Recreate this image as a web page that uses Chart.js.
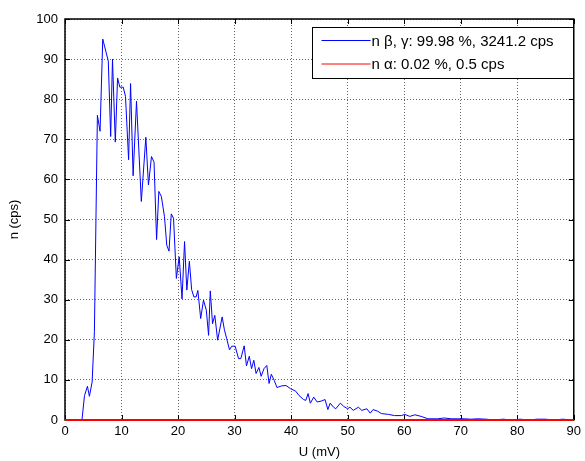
<!DOCTYPE html>
<html>
<head>
<meta charset="utf-8">
<script src="https://cdn.jsdelivr.net/npm/chart.js@4/dist/chart.umd.min.js"></script>
<style>
    html, body { margin: 0; padding: 0; background: #fff; }
    #wrap { width: 585px; height: 461px; position: relative; }
</style>
</head>
<body>
<div id="wrap"><canvas id="spectrumChart"></canvas></div>
<script>
// ========== DATA ==========
const uBeta = [0, 3.0, 3.45, 3.97, 4.32, 4.8, 5.2, 5.73, 6.2, 6.68, 7.66, 8.08, 8.4, 8.9, 9.3, 9.7,
    10.3, 10.7, 11.25, 11.6, 12.05, 12.65, 13.5, 14.3, 14.76, 15.3, 15.75, 16.2, 16.6, 17.05, 17.6,
    18.0, 18.4, 18.8, 19.2, 19.7, 20.2, 20.7, 21.15, 21.55, 22.0, 22.4, 22.8, 23.2, 23.5, 24.0, 24.5,
    25.0, 25.4, 25.7, 26.1, 26.5, 27.0, 27.8, 28.2, 28.6, 29.1, 29.5, 30.1, 30.7, 31.1, 31.7, 32.1,
    32.6, 33.0, 33.4, 33.8, 34.3, 34.7, 35.2, 35.7, 36.1, 36.5, 37.0, 37.5, 38.3, 39.1, 39.9, 40.8,
    41.4, 42.2, 42.6, 43.0, 43.4, 44.0, 44.6, 45.3, 46.0, 46.5, 46.9, 47.5, 47.9, 48.7, 49.3, 50.0,
    50.4, 51.0, 51.9, 52.5, 53.4, 54.0, 54.5, 55.3, 56.0, 57.2, 58.3, 59.5, 60.1, 61.0, 61.9, 63.0,
    64.2, 65.9, 67.1, 68.3, 69.5, 70.7, 71.8, 73.0, 74.5, 76.0, 77.5, 79.0, 80.5, 82.0, 83.5, 85.0,
    86.5, 88.0, 90.0];
const nBeta = [0, 0, 6.1, 8.4, 5.9, 9.5, 22, 76, 72, 95, 89.5, 70.7, 90, 69.3, 85.3, 83,
    83, 80.7, 64.9, 83.9, 60.9, 79.5, 54.5, 70.5, 58.6, 65.7, 64.3, 45, 57, 55.7, 50.7,
    43.6, 42.1, 51.4, 50.3, 35.3, 40.7, 30.2, 44.5, 32.4, 39.6, 32.5, 30.7, 30.7, 32.3, 25.3, 29.9,
    27.4, 21.1, 32.2, 24, 26.1, 19.9, 25.7, 22.5, 20.3, 17.5, 18.4, 18.4, 15.3, 15.3, 18.5, 13.5,
    15.9, 12.8, 14.9, 11.6, 13.1, 10.9, 12.8, 13.6, 9.1, 11.4, 9.9, 8.1, 8.5, 8.6, 7.8, 7.2,
    6.1, 5.1, 4.9, 6.6, 4.2, 5.7, 4.5, 4.7, 5.1, 2.6, 4.2, 3.2, 2.8, 4.2, 3.4, 2.8,
    3.2, 2.4, 3.2, 2.4, 2.8, 1.7, 2.6, 2.2, 1.6, 1.4, 1.1, 1.1, 1.4, 0.9, 1.3, 0.9,
    0.3, 0.3, 0.5, 0.3, 0.3, 0.3, 0.2, 0.3, 0.2, 0, 0.2, 0, 0.2, 0, 0.2, 0.2,
    0, 0.2, 0];

const uAlpha = [0, 10, 20, 30, 40, 50, 60, 70, 80, 90];
const nAlpha = [0, 0, 0, 0, 0, 0, 0, 0, 0, 0];

const xTicks = [0, 10, 20, 30, 40, 50, 60, 70, 80, 90];
const yTicks = [0, 10, 20, 30, 40, 50, 60, 70, 80, 90, 100];

const labelBeta = 'n \u03b2, \u03b3: 99.98 %, 3241.2 cps';
const labelAlpha = 'n \u03b1: 0.02 %, 0.5 cps';

const FONT = 'Liberation Sans, Arial, sans-serif';

// ========== PLUGINS ==========
// box round the plot with MATLAB style ticks pointing inwards
const boxPlugin = {
    id: 'boxPlugin',
    beforeDatasetsDraw(chart) {
        const { ctx, chartArea: a, scales } = chart;
        ctx.save();
        ctx.strokeStyle = '#000';
        ctx.lineWidth = 1;
        ctx.beginPath();
        xTicks.forEach(v => {
            const x = Math.round(scales.x.getPixelForValue(v)) + 0.5;
            ctx.moveTo(x, a.bottom); ctx.lineTo(x, a.bottom - 5);
            ctx.moveTo(x, a.top); ctx.lineTo(x, a.top + 5);
        });
        yTicks.forEach(v => {
            const y = Math.round(scales.y.getPixelForValue(v)) + 0.5;
            ctx.moveTo(a.left, y); ctx.lineTo(a.left + 5, y);
            ctx.moveTo(a.right, y); ctx.lineTo(a.right - 5, y);
        });
        ctx.stroke();
        ctx.lineWidth = 1.5;
        ctx.strokeRect(a.left, a.top, a.right - a.left, a.bottom - a.top);
        ctx.restore();
    }
};

// legend drawn inside the plot, top right
const legendPlugin = {
    id: 'legendPlugin',
    afterDraw(chart) {
        const { ctx, chartArea: a } = chart;
        const bx = 312.5, by = 27.5, boxW = 261, boxH = 51;
        ctx.save();
        ctx.fillStyle = '#fff';
        ctx.fillRect(bx, by, boxW, boxH);
        ctx.strokeStyle = '#000';
        ctx.lineWidth = 1;
        ctx.strokeRect(bx, by, boxW, boxH);
        chart.data.datasets.forEach((ds, i) => {
            const y = by + 13 + i * 23.5;
            ctx.strokeStyle = ds.borderColor;
            ctx.lineWidth = 1;
            ctx.beginPath();
            ctx.moveTo(bx + 9, y);
            ctx.lineTo(bx + 58, y);
            ctx.stroke();
            ctx.fillStyle = '#000';
            ctx.font = '15px ' + FONT;
            ctx.textBaseline = 'middle';
            ctx.fillText(ds.label, bx + 59, y + 1);
        });
        ctx.restore();
    }
};

// ========== CHART ==========
const ctx = document.getElementById('spectrumChart').getContext('2d');
new Chart(ctx, {
    type: 'line',
    data: {
        datasets: [
            {
                label: labelBeta,
                data: uBeta.map((u, i) => ({ x: u, y: nBeta[i] })),
                borderColor: '#0000ff',
                borderWidth: 1,
                pointRadius: 0,
                tension: 0,
                order: 2
            },
            {
                label: labelAlpha,
                data: uAlpha.map((u, i) => ({ x: u, y: nAlpha[i] })),
                borderColor: '#ff0000',
                borderWidth: 2,
                pointRadius: 0,
                tension: 0,
                clip: false,
                order: 1
            }
        ]
    },
    options: {
        responsive: true,
        maintainAspectRatio: false,
        devicePixelRatio: 1,
        animation: false,
        layout: { padding: { top: 19, right: 8, left: 0, bottom: 0 } },
        plugins: {
            legend: { display: false },
            tooltip: { enabled: false }
        },
        scales: {
            x: {
                type: 'linear',
                min: 0,
                max: 90,
                afterBuildTicks: scale => { scale.ticks = xTicks.map(v => ({ value: v })); },
                afterFit: scale => { scale.height = 41; },
                ticks: { color: '#000', font: { family: FONT, size: 13 }, padding: 4, maxRotation: 0 },
                grid: { color: 'rgba(0,0,0,0.6)', drawTicks: false },
                border: { display: false, dash: [1, 2] },
                title: { display: true, text: 'U (mV)', color: '#000', font: { family: FONT, size: 13 }, padding: { top: 0, bottom: 1 } }
            },
            y: {
                min: 0,
                max: 100,
                afterBuildTicks: scale => { scale.ticks = yTicks.map(v => ({ value: v })); },
                afterFit: scale => { scale.width = 65; },
                ticks: { color: '#000', font: { family: FONT, size: 13 }, padding: 7 },
                grid: { color: 'rgba(0,0,0,0.6)', drawTicks: false },
                border: { display: false, dash: [1, 2] },
                title: { display: true, text: 'n (cps)', color: '#000', font: { family: FONT, size: 13 }, padding: { top: 7, bottom: 0 } }
            }
        }
    },
    plugins: [boxPlugin, legendPlugin]
});
</script>
</body>
</html>
